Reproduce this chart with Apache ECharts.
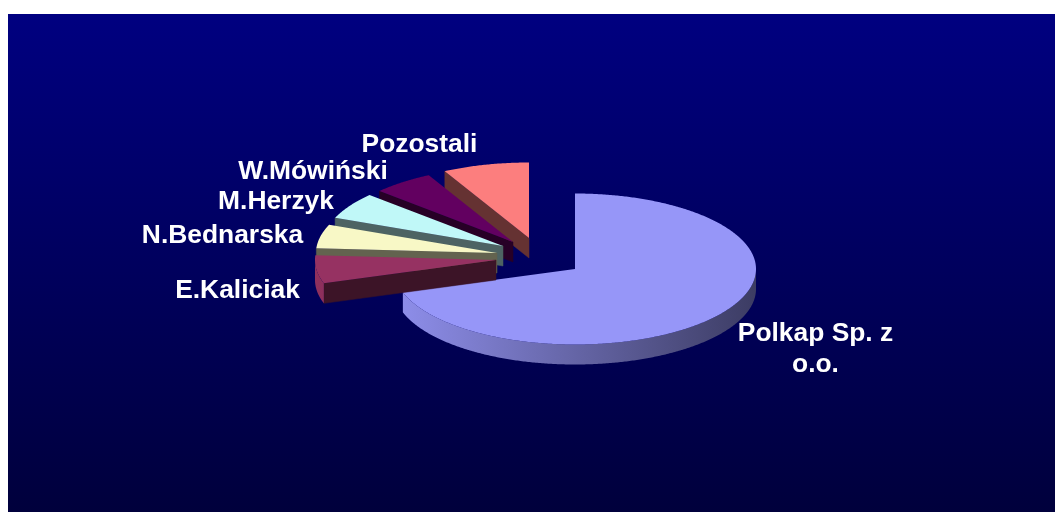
<!DOCTYPE html>
<html>
<head>
<meta charset="utf-8">
<style>html,body{margin:0;padding:0;background:#fff}#c{width:1055px;height:512px}</style>
<script src="https://cdn.jsdelivr.net/npm/echarts@6/dist/echarts.min.js"></script>
</head>
<body>
<div id="c"></div>
<script>
// Data (share of total, %), in chart order, clockwise from 12 o'clock
var categories = ['Polkap Sp. z\no.o.', 'E.Kaliciak', 'N.Bednarska', 'M.Herzyk', 'W.Mówiński', 'Pozostali'];
var shares = [70.0, 6.0, 5.1, 5.7, 5.5, 7.7];

// Styling
var sliceColors = [[0x96,0x96,0xF8],[0x96,0x32,0x62],[0xF8,0xF8,0xC6],[0xC0,0xF8,0xF8],[0x62,0x00,0x60],[0xFC,0x7E,0x7E]];

// Layout of the tilted pie
var pie = {cx: 575, cy: 269, rx: 181, ry: 75.5, depth: 20};
var explode = [[0,0],[-79,-9],[-78,-16],[-72,-23],[-62,-27],[-46,-31]];
var labelAt = [[815.5,349.5],[237.5,291],[222.5,236],[276,202],[313,172],[419.5,145]];

var chart = echarts.init(document.getElementById('c'), null, {renderer: 'canvas'});
var total = shares.reduce(function (a, b) { return a + b; }, 0);
var starts = [], acc = 0;
shares.forEach(function (v) { starts.push(acc); acc += v; });

function shade(c, f) {
  return 'rgb(' + Math.round(c[0]*f) + ',' + Math.round(c[1]*f) + ',' + Math.round(c[2]*f) + ')';
}
function arcPoints(cx, cy, a0, a1) {
  var pts = [], n = Math.max(2, Math.ceil((a1 - a0) * 2));
  for (var i = 0; i <= n; i++) {
    var a = (a0 + (a1 - a0) * i / n) * Math.PI / 180;
    pts.push([cx + pie.rx * Math.sin(a), cy - pie.ry * Math.cos(a)]);
  }
  return pts;
}
function renderSlice(params, api) {
  var i = params.dataIndex, v = api.value(0);
  var a0 = starts[i] / total * 360, a1 = a0 + v / total * 360;
  var cx = pie.cx + explode[i][0], cy = pie.cy + explode[i][1], d = pie.depth;
  var col = sliceColors[i], z = i === 0 ? 1 : 20 - i;
  var kids = [];
  var dark = shade(col, 0.4);
  function wall(angle) {
    var p = arcPoints(cx, cy, angle, angle + 0.001)[0];
    kids.push({type: 'polygon', z2: z, shape: {points: [[cx, cy], p, [p[0], p[1] + d], [cx, cy + d]]},
      style: {fill: dark, stroke: dark, lineWidth: 0.5}});
  }
  if (a0 > 180 && a0 < 360) wall(a0);
  if (a1 > 0 && a1 < 180) wall(a1);
  var f0 = Math.max(a0, 90), f1 = Math.min(a1, 270);
  if (f1 > f0) {
    var top = arcPoints(cx, cy, f0, f1);
    var bottom = top.map(function (p) { return [p[0], p[1] + d]; }).reverse();
    kids.push({type: 'polygon', z2: z, shape: {points: top.concat(bottom)},
      style: {fill: {type: 'linear', x: cx - pie.rx, y: 0, x2: cx + pie.rx, y2: 0, global: true,
        colorStops: [{offset: 0, color: shade(col, 0.95)}, {offset: 0.5, color: shade(col, 0.67)}, {offset: 1, color: shade(col, 0.4)}]}}});
  }
  kids.push({type: 'polygon', z2: z + 0.5, shape: {points: [[cx, cy]].concat(arcPoints(cx, cy, a0, a1))},
    style: {fill: shade(col, 1)}});
  kids.push({type: 'text', z2: 100, style: {text: categories[i], x: labelAt[i][0], y: labelAt[i][1],
    fill: '#fff', font: 'bold 26.4px "Liberation Sans", Arial, sans-serif', align: 'center', verticalAlign: 'middle', lineHeight: 31}});
  return {type: 'group', children: kids};
}

chart.setOption({
  animation: false,
  backgroundColor: '#ffffff',
  graphic: [{type: 'rect', z: -10, silent: true, shape: {x: 8, y: 14, width: 1047, height: 498},
    style: {fill: {type: 'linear', x: 0, y: 0, x2: 0, y2: 1, colorStops: [{offset: 0, color: '#000080'}, {offset: 1, color: '#00003c'}]}}}],
  series: [{
    type: 'custom',
    coordinateSystem: 'none',
    silent: true,
    renderItem: renderSlice,
    data: shares.map(function (v, i) { return {name: categories[i], value: [v]}; })
  }]
});
</script>
</body>
</html>
